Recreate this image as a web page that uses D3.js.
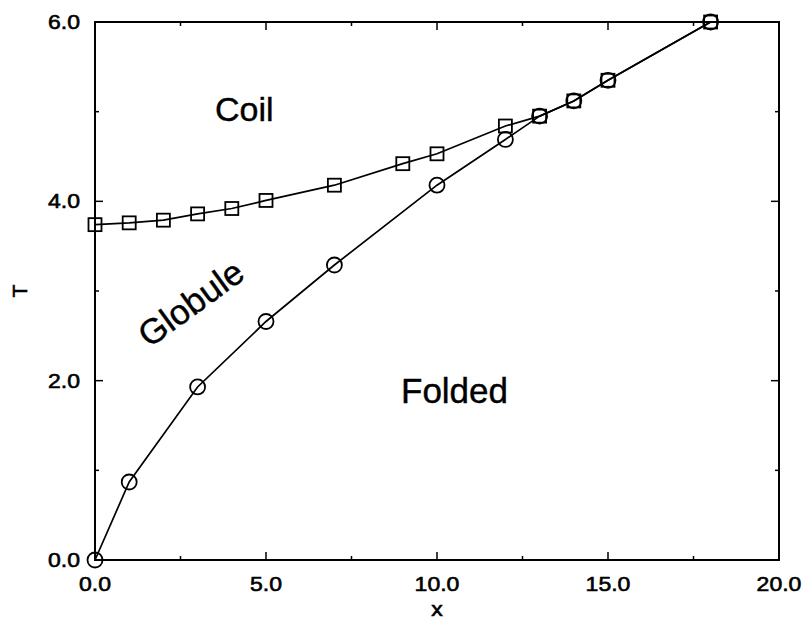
<!DOCTYPE html>
<html>
<head>
<meta charset="utf-8">
<script src="https://cdn.jsdelivr.net/npm/d3@7"></script>
<style>
  body { margin: 0; background: #fff; }
  text { font-family: "Liberation Sans", Arial, sans-serif; fill: #000; }
</style>
</head>
<body>
<div id="chart"></div>
<script>
// coil-globule boundary (squares)
const coilX = [0, 1, 2, 3, 4, 5, 7, 9, 10, 12, 13, 14, 15, 18];
const coilT = [3.74, 3.76, 3.79, 3.86, 3.92, 4.01, 4.18, 4.42, 4.53, 4.84, 4.95, 5.12, 5.35, 6.0];

// folding boundary (circles)
const foldX = [0, 1, 3, 5, 7, 10, 12, 13, 14, 15, 18];
const foldT = [0, 0.87, 1.93, 2.66, 3.29, 4.18, 4.69, 4.95, 5.12, 5.35, 6.0];

const xTicks = [0, 5, 10, 15, 20];
const xMinor = [2.5, 7.5, 12.5, 17.5];
const yTicks = [0, 2, 4, 6];
const yMinor = [1, 3, 5];

const width = 806;
const height = 624;
const margin = { top: 22, right: 27, bottom: 64, left: 95 };

const svg = d3.select("#chart")
    .append("svg")
    .attr("width", width)
    .attr("height", height);

const x = d3.scaleLinear().domain([0, 20]).range([margin.left, width - margin.right]);
const y = d3.scaleLinear().domain([0, 6]).range([height - margin.bottom, margin.top]);

// frame
svg.append("rect")
    .attr("x", x(0))
    .attr("y", y(6))
    .attr("width", x(20) - x(0))
    .attr("height", y(0) - y(6))
    .attr("fill", "none")
    .attr("stroke", "#000")
    .attr("stroke-width", 2);

// inward ticks on all four sides
function ticksX(vals, len) {
    vals.forEach(v => {
        svg.append("line").attr("x1", x(v)).attr("x2", x(v))
            .attr("y1", y(0)).attr("y2", y(0) - len)
            .attr("stroke", "#000").attr("stroke-width", 1.5);
        svg.append("line").attr("x1", x(v)).attr("x2", x(v))
            .attr("y1", y(6)).attr("y2", y(6) + len)
            .attr("stroke", "#000").attr("stroke-width", 1.5);
    });
}
function ticksY(vals, len) {
    vals.forEach(v => {
        svg.append("line").attr("x1", x(0)).attr("x2", x(0) + len)
            .attr("y1", y(v)).attr("y2", y(v))
            .attr("stroke", "#000").attr("stroke-width", 1.5);
        svg.append("line").attr("x1", x(20)).attr("x2", x(20) - len)
            .attr("y1", y(v)).attr("y2", y(v))
            .attr("stroke", "#000").attr("stroke-width", 1.5);
    });
}
ticksX(xTicks, 8);
ticksX(xMinor, 4);
ticksY(yTicks, 8);
ticksY(yMinor, 4);

// tick labels (slightly wide, heavy lettering like the original)
function wideText(px, py, str, anchor, size) {
    svg.append("g")
        .attr("transform", `translate(${px},${py}) scale(1.15,1)`)
        .append("text")
        .attr("text-anchor", anchor)
        .attr("stroke", "#000")
        .attr("stroke-width", 0.6)
        .style("font-size", size + "px")
        .text(str);
}
xTicks.forEach(v => wideText(x(v), 591, d3.format(".1f")(v), "middle", 20));
yTicks.forEach(v => wideText(x(0) - 15, y(v) + 7, d3.format(".1f")(v), "end", 20));

// axis titles
wideText(x(10), 616, "x", "middle", 20);
svg.append("text")
    .attr("transform", `translate(27,${y(3)}) rotate(-90)`)
    .attr("text-anchor", "middle")
    .attr("stroke", "#000")
    .attr("stroke-width", 0.6)
    .style("font-size", "21px")
    .text("T");

// lines
const line = d3.line().x(d => x(d[0])).y(d => y(d[1]));
const coil = coilX.map((v, i) => [v, coilT[i]]);
const fold = foldX.map((v, i) => [v, foldT[i]]);

svg.append("path").datum(coil)
    .attr("d", line).attr("fill", "none")
    .attr("stroke", "#000").attr("stroke-width", 1.7);
svg.append("path").datum(fold)
    .attr("d", line).attr("fill", "none")
    .attr("stroke", "#000").attr("stroke-width", 1.7);

// markers (hollow)
svg.selectAll(".sq")
    .data(coil)
    .enter().append("rect")
    .attr("class", "sq")
    .attr("x", d => x(d[0]) - 6.5)
    .attr("y", d => y(d[1]) - 6.5)
    .attr("width", 13)
    .attr("height", 13)
    .attr("fill", "none")
    .attr("stroke", "#000")
    .attr("stroke-width", 1.8);

svg.selectAll(".ci")
    .data(fold)
    .enter().append("circle")
    .attr("class", "ci")
    .attr("cx", d => x(d[0]))
    .attr("cy", d => y(d[1]))
    .attr("r", 7.5)
    .attr("fill", "none")
    .attr("stroke", "#000")
    .attr("stroke-width", 1.8);

// region labels
svg.append("text").attr("x", 215).attr("y", 121)
    .attr("stroke", "#000").attr("stroke-width", 0.4)
    .style("font-size", "34px").text("Coil");
svg.append("text").attr("x", 401).attr("y", 403)
    .attr("stroke", "#000").attr("stroke-width", 0.4)
    .style("font-size", "35px").text("Folded");
svg.append("text")
    .attr("transform", "translate(198,313) rotate(-36)")
    .attr("text-anchor", "middle")
    .attr("stroke", "#000").attr("stroke-width", 0.4)
    .style("font-size", "35px")
    .text("Globule");
</script>
</body>
</html>
